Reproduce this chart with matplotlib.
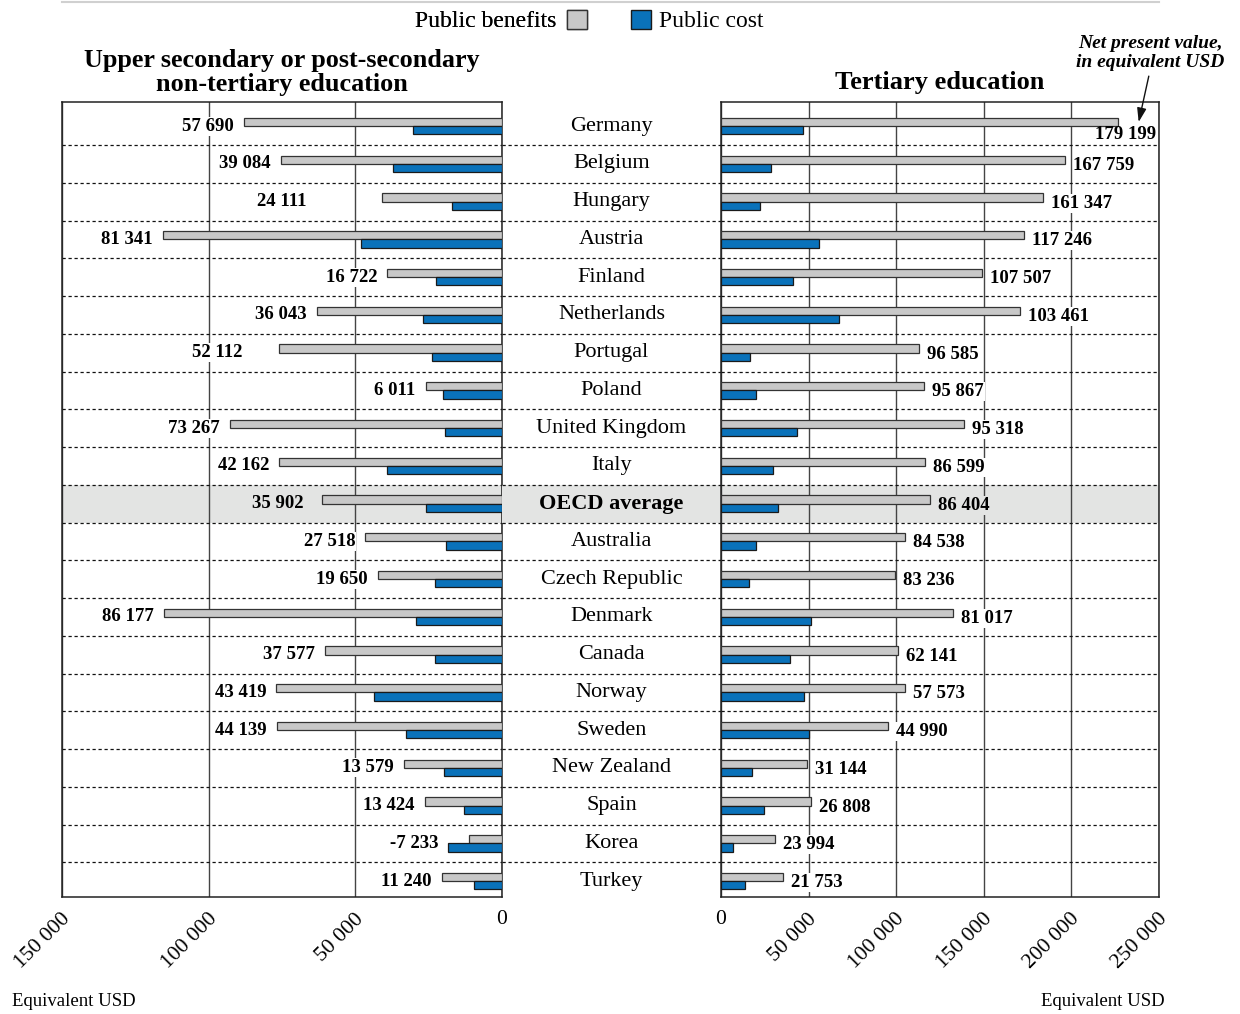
import numpy as np
import matplotlib
matplotlib.use("Agg")
import matplotlib.pyplot as plt
from matplotlib.patches import Patch
from matplotlib.lines import Line2D
from matplotlib.transforms import ScaledTranslation, blended_transform_factory

plt.rcParams["font.family"] = ["Liberation Serif", "DejaVu Serif"]

# ── data (equivalent USD) ────────────────────────────────────────────────────
countries = ["Germany", "Belgium", "Hungary", "Austria", "Finland", "Netherlands",
             "Portugal", "Poland", "United Kingdom", "Italy", "OECD average",
             "Australia", "Czech Republic", "Denmark", "Canada", "Norway", "Sweden",
             "New Zealand", "Spain", "Korea", "Turkey"]

upper_benefit = [87900, 75400, 41000, 115600, 39100, 63100, 76100, 26000, 92700, 75900,
                 61500, 46600, 42400, 115100, 60500, 77000, 76800, 33400, 26300, 11200, 20600]
upper_cost = [30200, 37000, 16900, 48200, 22400, 27000, 23900, 20000, 19500, 39100,
              25800, 19100, 22700, 29200, 23000, 43600, 32700, 19800, 13000, 18400, 9500]
upper_npv = [57690, 39084, 24111, 81341, 16722, 36043, 52112, 6011, 73267, 42162,
             35902, 27518, 19650, 86177, 37577, 43419, 44139, 13579, 13424, -7233, 11240]

tert_benefit = [226600, 196600, 183800, 173000, 148700, 170900, 113100, 115800, 138600, 116500,
                119400, 104800, 99600, 132700, 101300, 105100, 95200, 48900, 51500, 30600, 35200]
tert_cost = [46900, 28700, 22200, 55700, 41300, 67500, 16400, 19800, 43200, 29900,
             32700, 20200, 16200, 51500, 39200, 47500, 50200, 17700, 24700, 6700, 13500]
tert_npv = [179199, 167759, 161347, 117246, 107507, 103461, 96585, 95867, 95318, 86599,
            86404, 84538, 83236, 81017, 62141, 57573, 44990, 31144, 26808, 23994, 21753]

left_ticks = [150000, 100000, 50000, 0]
right_ticks = [0, 50000, 100000, 150000, 200000, 250000]

# manual nudges of a few left-hand labels (pixels, further left)
left_shift = {"Hungary": 65, "Portugal": 26, "OECD average": 8}

GREY, BLUE, BAND = "#c8c8c8", "#0a72ba", "#e3e4e3"
W, H = 1240, 1014
n = len(countries)
y = np.arange(n)
oecd = countries.index("OECD average")


def fmt(v):
    return f"{v:,}".replace(",", " ")


def box(x0, x1, y0=102, y1=897):
    return [x0 / W, 1 - y1 / H, (x1 - x0) / W, (y1 - y0) / H]


fig = plt.figure(figsize=(W / 100, H / 100), dpi=100)
axL = fig.add_axes(box(62, 502))
axM = fig.add_axes(box(502, 721), sharey=axL)
axR = fig.add_axes(box(721, 1159), sharey=axL)
axL.set_ylim(20.42, -0.64)

for ax in (axL, axM, axR):
    ax.axhspan(oecd - 0.5, oecd + 0.5, color=BAND, lw=0, zorder=0)
    for b in y[:-1] + 0.5:
        ax.axhline(b, color="#111", lw=0.9, ls=(0, (2.6, 2.2)), zorder=1)

hb = 0.22
for ax, ben, cost, ticks, lim in [(axL, upper_benefit, upper_cost, left_ticks, (150000, 0)),
                                  (axR, tert_benefit, tert_cost, right_ticks, (0, 250000))]:
    ax.barh(y - hb / 2, ben, height=hb, color=GREY, edgecolor="#333", lw=0.9, zorder=3)
    ax.barh(y + hb / 2, cost, height=hb, color=BLUE, edgecolor="#1a1a1a", lw=0.9, zorder=3)
    ax.set_xlim(*lim)
    ax.set_xticks(ticks)
    ax.set_xticklabels([fmt(t) for t in ticks], fontsize=15.5)
    ax.grid(axis="x", color="#444", lw=1.0)
    ax.grid(axis="y", visible=False)
    ax.set_axisbelow(True)
    ax.tick_params(axis="x", length=0, pad=9)
    ax.tick_params(axis="y", left=False, labelleft=False)
    for s in ax.spines.values():
        s.set_color("#222")
        s.set_linewidth(1.1)
    for lab in ax.get_xticklabels():
        if lab.get_text() == "0":
            lab.set_ha("center")
        else:
            lab.set_rotation(45)
            lab.set_ha("right")
            lab.set_rotation_mode("anchor")
            lab.set_transform(lab.get_transform() + ScaledTranslation(-0.01, 0, fig.dpi_scale_trans))

axM.axis("off")
axM.set_xlim(0, 1)
for i, c in enumerate(countries):
    axM.text(0.5, i, c, ha="center", va="center", fontsize=16,
             fontweight="bold" if i == oecd else "normal")

# value labels
for i, c in enumerate(countries):
    bg = BAND if i == oecd else "white"
    end = max(upper_benefit[i], upper_cost[i])
    axL.annotate(fmt(upper_npv[i]), (end, i), xytext=(-(10 + left_shift.get(c, 0)), 0),
                 textcoords="offset pixels", ha="right", va="center", fontsize=13.5,
                 fontweight="bold", zorder=4,
                 bbox=dict(boxstyle="square,pad=0.05", fc=bg, ec="none"))
    end = max(tert_benefit[i], tert_cost[i])
    if end > 0.85 * 250000:
        axR.text(1 - 3 / 438, i + 0.22, fmt(tert_npv[i]), ha="right", va="center",
                 fontsize=13.5, fontweight="bold", zorder=4,
                 transform=blended_transform_factory(axR.transAxes, axR.transData))
    else:
        axR.annotate(fmt(tert_npv[i]), (end, i), xytext=(8, -1.5), textcoords="offset pixels",
                     ha="left", va="center", fontsize=13.5, fontweight="bold", zorder=4,
                     bbox=dict(boxstyle="square,pad=0.05", fc=bg, ec="none"))

# titles
axL.text(0.5, 1 + 42 / 795, "Upper secondary or post-secondary", transform=axL.transAxes,
         ha="center", va="center", fontsize=18.8, fontweight="bold")
axL.text(0.5, 1 + 18 / 795, "non-tertiary education", transform=axL.transAxes,
         ha="center", va="center", fontsize=18.8, fontweight="bold")
axR.text(0.5, 1 + 20 / 795, "Tertiary education", transform=axR.transAxes,
         ha="center", va="center", fontsize=19, fontweight="bold")

axR.annotate("Net present value,\nin equivalent USD", xy=(238400, -0.11),
             xytext=(1150 / W, 1 - 53 / H), textcoords="figure fraction",
             ha="center", va="center", fontsize=14, fontweight="bold", style="italic",
             linespacing=1.1, annotation_clip=False,
             arrowprops=dict(arrowstyle="-|>,head_length=0.6,head_width=0.2", color="#111",
                             lw=1.0, relpos=(0.5, 0), shrinkA=2, shrinkB=0))

# legend
leg1 = fig.legend([Patch(fc=GREY, ec="#333")], ["Public benefits"], loc="center right",
                  bbox_to_anchor=(587 / W, 1 - 21 / H), frameon=False, markerfirst=False,
                  fontsize=17, handlelength=0.85, handleheight=0.85, handletextpad=0.45,
                  borderpad=0, borderaxespad=0)
fig.add_artist(leg1)
fig.legend([Patch(fc=BLUE, ec="#1a1a1a")], ["Public cost"], loc="center left",
           bbox_to_anchor=(631 / W, 1 - 21 / H), frameon=False,
           fontsize=17, handlelength=0.85, handleheight=0.85, handletextpad=0.35,
           borderpad=0, borderaxespad=0)

fig.add_artist(Line2D([62 / W, 1159 / W], [1 - 1.5 / H] * 2, color="#d0d0d0", lw=1.5))
fig.text(12 / W, 1 - 1001 / H, "Equivalent USD", ha="left", va="center", fontsize=13.5)
fig.text(1165 / W, 1 - 1001 / H, "Equivalent USD", ha="right", va="center", fontsize=13.5)

fig.savefig("out.png", dpi=100)
